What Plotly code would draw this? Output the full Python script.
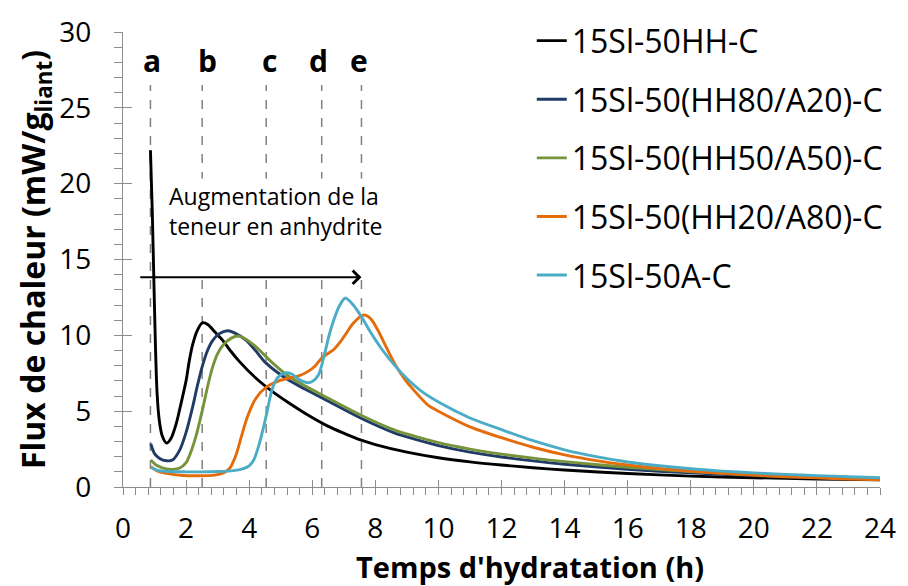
import plotly.graph_objects as go

# Heat flow curves (time in h, flux in mW/g of binder)
t_hh = [0.87, 0.93, 0.98, 1.03, 1.08, 1.15, 1.24, 1.38, 1.52, 1.69, 1.85, 2.0, 2.1, 2.21, 2.35,
        2.52, 2.7, 2.9, 3.15, 3.4, 3.68, 4.2, 4.73, 5.25, 5.78, 6.51, 7.0, 7.53, 8.0, 9.0,
        10.0, 11.0, 12.0, 13.0, 14.0, 16.0, 18.0, 20.0, 22.0, 24.0]
q_hh = [22.2, 18.0, 13.5, 9.2, 6.2, 4.4, 3.4, 2.9, 3.2, 4.2, 5.6, 7.0, 8.3, 9.4, 10.3,
        10.83, 10.7, 10.25, 9.7, 9.0, 8.3, 7.2, 6.3, 5.55, 4.85, 4.0, 3.55, 3.1, 2.8, 2.3,
        1.93, 1.66, 1.45, 1.27, 1.12, 0.89, 0.72, 0.61, 0.53, 0.48]

t_hh80 = [0.88, 1.0, 1.15, 1.38, 1.58, 1.8, 2.0, 2.21, 2.35, 2.52, 2.68, 2.84, 3.05, 3.31, 3.55,
          3.89, 4.2, 4.52, 5.25, 5.78, 6.51, 7.53, 8.62, 9.0, 10.0, 11.0, 12.0, 13.0, 14.0,
          16.0, 18.0, 20.0, 22.0, 24.0]
q_hh80 = [2.85, 2.2, 1.9, 1.73, 1.8, 2.45, 3.6, 5.3, 6.6, 8.0, 9.0, 9.65, 10.1, 10.3, 10.15,
          9.7, 9.0, 8.2, 7.05, 6.45, 5.65, 4.55, 3.55, 3.3, 2.73, 2.3, 1.98, 1.72, 1.5,
          1.17, 0.93, 0.75, 0.62, 0.52]

t_hh50 = [0.88, 1.05, 1.27, 1.59, 1.8, 2.0, 2.15, 2.32, 2.52, 2.68, 2.84, 3.0, 3.15, 3.42, 3.68,
          3.9, 4.2, 4.73, 5.25, 5.78, 6.51, 7.53, 8.62, 9.0, 10.0, 11.0, 12.0, 13.0, 14.0,
          16.0, 18.0, 20.0, 22.0, 24.0]
q_hh50 = [1.78, 1.45, 1.25, 1.16, 1.25, 1.6, 2.3, 3.4, 5.1, 6.6, 7.9, 8.8, 9.3, 9.8, 9.95,
          9.75, 9.27, 8.2, 7.3, 6.65, 5.85, 4.75, 3.75, 3.5, 2.92, 2.5, 2.17, 1.9, 1.67,
          1.3, 1.02, 0.8, 0.64, 0.52]

t_hh20 = [0.88, 1.1, 1.48, 1.9, 2.4, 2.9, 3.2, 3.37, 3.58, 3.75, 3.94, 4.2, 4.52, 4.94, 5.3,
          5.57, 5.88, 6.1, 6.3, 6.5, 6.7, 6.9, 7.05, 7.3, 7.63, 7.85, 8.09, 8.35, 8.62, 8.9,
          9.15, 9.67, 10.0, 11.0, 12.0, 13.0, 14.0, 15.0, 16.0, 17.0, 18.0, 19.0, 20.0, 21.0,
          22.0, 23.0, 24.0]
q_hh20 = [1.35, 1.05, 0.87, 0.76, 0.74, 0.78, 0.95, 1.2, 2.1, 3.3, 4.6, 5.8, 6.55, 7.0, 7.2,
          7.32, 7.64, 8.0, 8.5, 8.8, 9.1, 9.6, 10.05, 10.8, 11.34, 11.1, 10.3, 9.2, 8.1, 7.2,
          6.55, 5.4, 5.0, 3.97, 3.25, 2.62, 2.12, 1.74, 1.45, 1.22, 1.04, 0.9, 0.78, 0.68,
          0.6, 0.53, 0.48]

t_a = [0.88, 1.1, 1.48, 2.0, 2.5, 3.0, 3.5, 3.79, 4.0, 4.15, 4.3, 4.45, 4.54, 4.73, 4.9,
       5.15, 5.35, 5.57, 5.84, 6.0, 6.2, 6.37, 6.51, 6.63, 6.85, 7.05, 7.3, 7.56, 7.85, 8.2,
       8.62, 9.0, 9.47, 10.0, 11.0, 12.0, 13.0, 14.0, 15.0, 16.0, 17.0, 18.0, 19.0, 20.0,
       21.0, 22.0, 23.0, 24.0]
q_a = [1.3, 1.1, 1.02, 1.0, 1.0, 1.02, 1.08, 1.2, 1.4, 1.8, 2.7, 3.9, 4.7, 6.45, 7.2,
       7.53, 7.45, 7.1, 6.88, 6.95, 7.4, 8.6, 9.8, 10.68, 11.9, 12.46, 12.0, 11.22, 10.2, 9.1,
       8.0, 7.15, 6.3, 5.6, 4.55, 3.78, 3.05, 2.45, 2.0, 1.65, 1.4, 1.2, 1.05, 0.93,
       0.83, 0.75, 0.68, 0.61]

series_names = ["15Sl-50HH-C", "15Sl-50(HH80/A20)-C", "15Sl-50(HH50/A50)-C",
                "15Sl-50(HH20/A80)-C", "15Sl-50A-C"]
series_t = [t_hh, t_hh80, t_hh50, t_hh20, t_a]
series_q = [q_hh, q_hh80, q_hh50, q_hh20, q_a]
series_colors = ["#000000", "#1F3B66", "#77933C", "#E46C0A", "#4BACC6"]

# Characteristic times marked by dashed lines
event_labels = ["a", "b", "c", "d", "e"]
event_times = [0.87, 2.51, 4.54, 6.30, 7.56]
event_label_x = [0.91, 2.67, 4.65, 6.20, 7.49]

FONT = "Open Sans"
AXIS_GREY = "#8c8c8c"

fig = go.Figure()

for name, t, q, c in zip(series_names, series_t, series_q, series_colors):
    fig.add_trace(go.Scatter(
        x=t, y=q, mode="lines", name=name, legendgroup=name,
        line=dict(color=c, width=2.9, shape="spline", smoothing=0.8),
    ))

# empty trace carrying the overlay axes used for inward major ticks
fig.add_trace(go.Scatter(x=[], y=[], xaxis="x2", yaxis="y2", showlegend=False,
                         hoverinfo="skip"))

shapes = []
for tx in event_times:
    shapes.append(dict(type="line", xref="x", yref="y", x0=tx, x1=tx, y0=0, y1=26.5,
                       line=dict(color="#808080", width=1.5, dash="dash"), layer="below"))

annotations = []
for lab, lx in zip(event_labels, event_label_x):
    annotations.append(dict(x=lx, y=28.1, xref="x", yref="y", text=f"<b>{lab}</b>",
                            showarrow=False, font=dict(size=30, color="black", family=FONT)))

# text box masking the dashed lines
annotations.append(dict(
    x=1.40, y=20.4, xref="x", yref="y", xanchor="left", yanchor="top",
    text="Augmentation de la<br>teneur en anhydrite", showarrow=False, align="left",
    valign="top", width=232, height=97, bgcolor="white", borderpad=1,
    font=dict(size=23, color="black", family=FONT),
))

# arrow along increasing anhydrite content
annotations.append(dict(
    x=7.56, y=13.83, ax=0.5, ay=13.83, xref="x", yref="y", axref="x", ayref="y",
    text="", showarrow=True, arrowhead=4, arrowsize=1.3, arrowwidth=2, arrowcolor="black",
))

# x-axis title
annotations.append(dict(
    x=0.538, y=-0.175, xref="paper", yref="paper", yanchor="middle",
    text="<b>Temps d'hydratation (h)</b>", showarrow=False,
    font=dict(size=29, color="black", family=FONT),
))

fig.update_layout(
    width=908, height=586,
    margin=dict(l=123, r=21, t=27, b=99),
    paper_bgcolor="white", plot_bgcolor="white",
    font=dict(family=FONT, color="black"),
    showlegend=True,
    legend=dict(x=0.54, y=1.041, xanchor="left", yanchor="top",
                font=dict(size=32, family=FONT, color="black"),
                bgcolor="rgba(0,0,0,0)", tracegroupgap=14, itemwidth=30,
                borderwidth=0),
    shapes=shapes,
    annotations=annotations,
    xaxis=dict(
        range=[0, 24], tickvals=list(range(0, 25, 2)), showgrid=False, zeroline=False,
        showline=True, linecolor=AXIS_GREY, linewidth=1.3,
        ticks="outside", ticklen=7, tickcolor=AXIS_GREY, tickwidth=1.3,
        ticklabelstandoff=9,
        tickfont=dict(size=28, family=FONT, color="black"),
        minor=dict(dtick=0.4, ticks="outside", ticklen=7, tickcolor=AXIS_GREY, tickwidth=1.3,
                   showgrid=False),
    ),
    yaxis=dict(
        range=[0, 30], dtick=5, showgrid=False, zeroline=False,
        showline=True, linecolor=AXIS_GREY, linewidth=1.3,
        ticks="outside", ticklen=8, tickcolor=AXIS_GREY, tickwidth=1.3,
        ticklabelstandoff=17,
        tickfont=dict(size=28, family=FONT, color="black"),
        minor=dict(dtick=1, ticks="outside", ticklen=8, tickcolor=AXIS_GREY, tickwidth=1.3,
                   showgrid=False),
        title=dict(text="<b>Flux de chaleur (mW/g<sub>liant</sub>)</b>",
                   font=dict(size=32, family=FONT, color="black"), standoff=3),
    ),
    xaxis2=dict(overlaying="x", matches="x", anchor="y2", range=[0, 24],
                tickvals=list(range(0, 25, 2)), ticks="inside", ticklen=7,
                tickcolor=AXIS_GREY, tickwidth=1.3, showticklabels=False,
                showgrid=False, zeroline=False, showline=False),
    yaxis2=dict(overlaying="y", matches="y", anchor="x2", range=[0, 30], dtick=5,
                ticks="inside", ticklen=9, tickcolor=AXIS_GREY, tickwidth=1.3,
                showticklabels=False, showgrid=False, zeroline=False, showline=False),
)

fig.write_html("out.html")
